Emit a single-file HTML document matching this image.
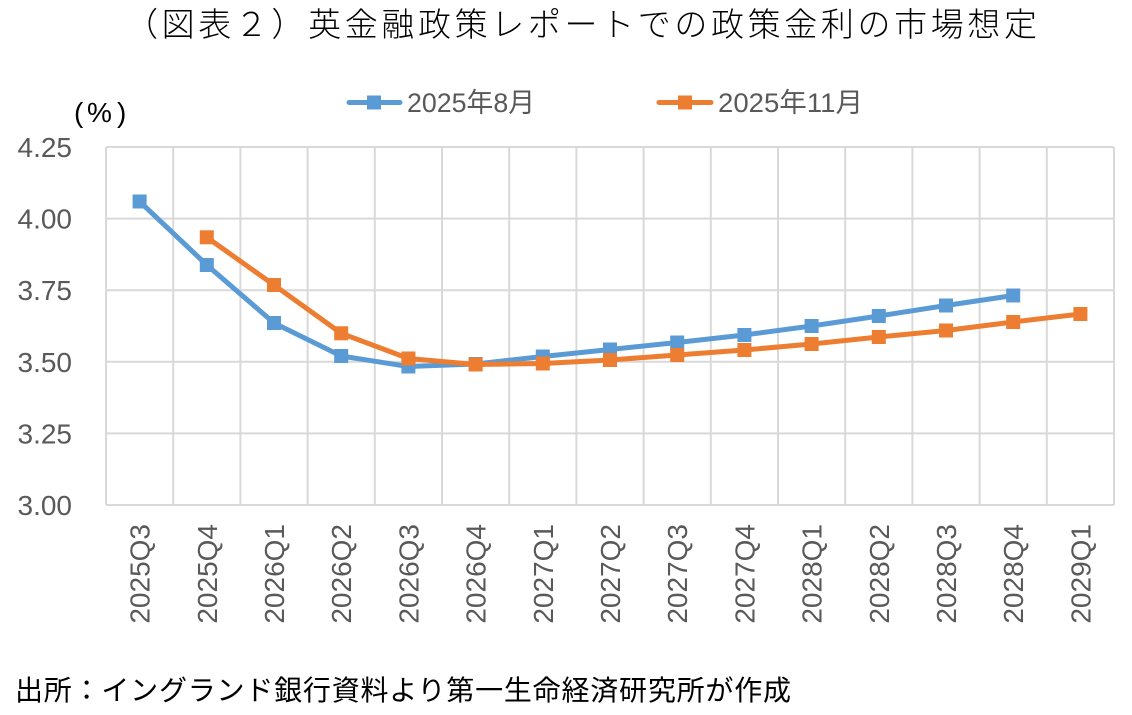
<!DOCTYPE html>
<html><head><meta charset="utf-8"><style>
html,body{margin:0;padding:0;background:#fff;}
svg{display:block;}
text{font-family:"Liberation Sans","Noto Sans CJK JP",sans-serif;}
.jp{font-family:"Liberation Sans","Noto Sans CJK JP",sans-serif;}
</style></head><body>
<svg width="1132" height="715" viewBox="0 0 1132 715" xmlns="http://www.w3.org/2000/svg">
<rect width="1132" height="715" fill="#fff"/>
<!-- title -->
<text x="125" y="36" font-size="33" font-weight="300" fill="#000" class="jp" textLength="912" lengthAdjust="spacing">（図表２）英金融政策レポートでの政策金利の市場想定</text>
<!-- unit -->
<g fill="#000" font-family="Liberation Sans, sans-serif">
<text x="74" y="122" font-size="28">(</text>
<text x="87" y="122" font-size="28">%</text>
<text x="117" y="122" font-size="28">)</text>
</g>
<!-- legend -->
<line x1="349" y1="102.5" x2="400" y2="102.5" stroke="#5b9bd5" stroke-width="5" stroke-linecap="round"/>
<rect x="367" y="95.5" width="14" height="14" fill="#5b9bd5"/>
<text x="407" y="112" font-size="27" fill="#595959" textLength="128" lengthAdjust="spacingAndGlyphs">2025年8月</text>
<line x1="659" y1="102.5" x2="711" y2="102.5" stroke="#ed7d31" stroke-width="5" stroke-linecap="round"/>
<rect x="678" y="95.5" width="14" height="14" fill="#ed7d31"/>
<text x="718" y="112" font-size="27" fill="#595959" textLength="145" lengthAdjust="spacingAndGlyphs">2025年11月</text>
<!-- grid -->
<g stroke="#d9d9d9" stroke-width="2" fill="none">
<line x1="106" y1="147" x2="1114" y2="147"/>
<line x1="106" y1="218.6" x2="1114" y2="218.6"/>
<line x1="106" y1="290.2" x2="1114" y2="290.2"/>
<line x1="106" y1="361.8" x2="1114" y2="361.8"/>
<line x1="106" y1="433.4" x2="1114" y2="433.4"/>
<line x1="106" y1="505" x2="1114" y2="505"/>
<line x1="106" y1="147" x2="106" y2="505"/>
<line x1="173.2" y1="147" x2="173.2" y2="505"/>
<line x1="240.4" y1="147" x2="240.4" y2="505"/>
<line x1="307.6" y1="147" x2="307.6" y2="505"/>
<line x1="374.8" y1="147" x2="374.8" y2="505"/>
<line x1="442" y1="147" x2="442" y2="505"/>
<line x1="509.2" y1="147" x2="509.2" y2="505"/>
<line x1="576.4" y1="147" x2="576.4" y2="505"/>
<line x1="643.6" y1="147" x2="643.6" y2="505"/>
<line x1="710.8" y1="147" x2="710.8" y2="505"/>
<line x1="778" y1="147" x2="778" y2="505"/>
<line x1="845.2" y1="147" x2="845.2" y2="505"/>
<line x1="912.4" y1="147" x2="912.4" y2="505"/>
<line x1="979.6" y1="147" x2="979.6" y2="505"/>
<line x1="1046.8" y1="147" x2="1046.8" y2="505"/>
<line x1="1114" y1="147" x2="1114" y2="505"/>
</g>
<!-- y labels -->
<g font-size="28" fill="#595959" text-anchor="end">
<text x="72" y="157">4.25</text>
<text x="72" y="228.6">4.00</text>
<text x="72" y="300.2">3.75</text>
<text x="72" y="371.8">3.50</text>
<text x="72" y="443.4">3.25</text>
<text x="72" y="515">3.00</text>
</g>
<!-- x labels -->
<g font-size="28" fill="#595959" text-anchor="end">
<text transform="translate(149.6,524) rotate(-90)">2025Q3</text>
<text transform="translate(216.8,524) rotate(-90)">2025Q4</text>
<text transform="translate(284,524) rotate(-90)">2026Q1</text>
<text transform="translate(351.2,524) rotate(-90)">2026Q2</text>
<text transform="translate(418.4,524) rotate(-90)">2026Q3</text>
<text transform="translate(485.6,524) rotate(-90)">2026Q4</text>
<text transform="translate(552.8,524) rotate(-90)">2027Q1</text>
<text transform="translate(620,524) rotate(-90)">2027Q2</text>
<text transform="translate(687.2,524) rotate(-90)">2027Q3</text>
<text transform="translate(754.4,524) rotate(-90)">2027Q4</text>
<text transform="translate(821.6,524) rotate(-90)">2028Q1</text>
<text transform="translate(888.8,524) rotate(-90)">2028Q2</text>
<text transform="translate(956,524) rotate(-90)">2028Q3</text>
<text transform="translate(1023.2,524) rotate(-90)">2028Q4</text>
<text transform="translate(1090.4,524) rotate(-90)">2029Q1</text>
</g>
<!-- blue series -->
<polyline fill="none" stroke="#5b9bd5" stroke-width="5" stroke-linejoin="round" stroke-linecap="round"
points="139.6,201.5 206.8,265 274,323 341.2,356 408.4,366.5 475.6,364 542.8,356.5 610,349.5 677.2,342.5 744.4,335 811.6,326 878.8,316 946,305.5 1013.2,295.5"/>
<g fill="#5b9bd5">
<rect x="132.6" y="194.5" width="14" height="14"/>
<rect x="199.8" y="258" width="14" height="14"/>
<rect x="267" y="316" width="14" height="14"/>
<rect x="334.2" y="349" width="14" height="14"/>
<rect x="401.4" y="359.5" width="14" height="14"/>
<rect x="468.6" y="357" width="14" height="14"/>
<rect x="535.8" y="349.5" width="14" height="14"/>
<rect x="603" y="342.5" width="14" height="14"/>
<rect x="670.2" y="335.5" width="14" height="14"/>
<rect x="737.4" y="328" width="14" height="14"/>
<rect x="804.6" y="319" width="14" height="14"/>
<rect x="871.8" y="309" width="14" height="14"/>
<rect x="939" y="298.5" width="14" height="14"/>
<rect x="1006.2" y="288.5" width="14" height="14"/>
</g>
<!-- orange series -->
<polyline fill="none" stroke="#ed7d31" stroke-width="5" stroke-linejoin="round" stroke-linecap="round"
points="206.8,237.3 274,285 341.2,333.3 408.4,358.5 475.6,364.5 542.8,363.5 610,360 677.2,355 744.4,350 811.6,344 878.8,337 946,330.5 1013.2,322 1080.4,314"/>
<g fill="#ed7d31">
<rect x="199.8" y="230.3" width="14" height="14"/>
<rect x="267" y="278" width="14" height="14"/>
<rect x="334.2" y="326.3" width="14" height="14"/>
<rect x="401.4" y="351.5" width="14" height="14"/>
<rect x="468.6" y="357.5" width="14" height="14"/>
<rect x="535.8" y="356.5" width="14" height="14"/>
<rect x="603" y="353" width="14" height="14"/>
<rect x="670.2" y="348" width="14" height="14"/>
<rect x="737.4" y="343" width="14" height="14"/>
<rect x="804.6" y="337" width="14" height="14"/>
<rect x="871.8" y="330" width="14" height="14"/>
<rect x="939" y="323.5" width="14" height="14"/>
<rect x="1006.2" y="315" width="14" height="14"/>
<rect x="1073.4" y="307" width="14" height="14"/>
</g>
<!-- footer -->
<text x="15" y="700" font-size="28" fill="#000" class="jp" textLength="776" lengthAdjust="spacing">出所：イングランド銀行資料より第一生命経済研究所が作成</text>
</svg>
</body></html>
